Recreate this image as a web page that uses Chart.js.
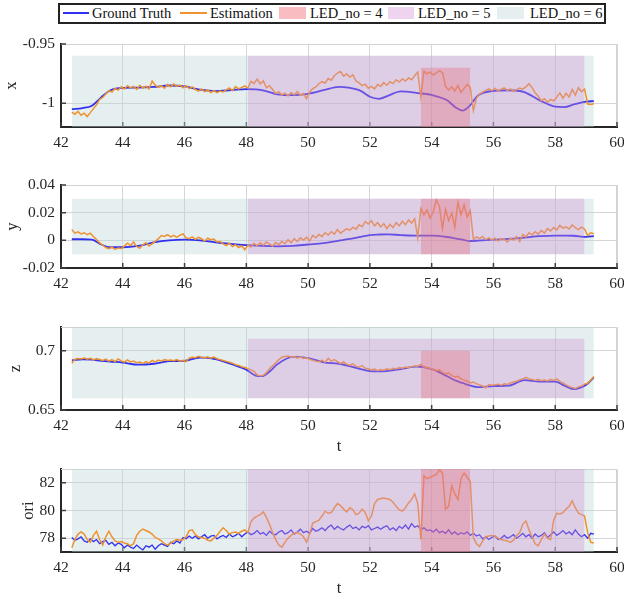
<!DOCTYPE html>
<html>
<head>
<meta charset="utf-8">
<script src="https://cdn.jsdelivr.net/npm/chart.js@4.4.1/dist/chart.umd.min.js"></script>
<style>
  body { margin: 0; width: 624px; height: 597px; overflow: hidden; position: relative; background: #fff;
         font-family: "Liberation Serif", "Times New Roman", serif; }
  canvas { position: absolute; left: 0; }
  #legend { position: absolute; left: 58px; top: 3px; width: 548px; height: 21px; box-sizing: border-box; border: 2px solid #222; background: #fff; }
  .lg { position: absolute; top: 4px; font-size: 14.5px; line-height: 18px; color: #111; white-space: nowrap; }
  .ln { position: absolute; top: 12px; height: 2px; }
  .sw { position: absolute; top: 7px; height: 12px; }
</style>
</head>
<body>
<div id="legend"></div>
<div class="ln" style="left:63px;width:26px;background:rgb(48,48,240)"></div>
<div class="lg" style="left:92px">Ground Truth</div>
<div class="ln" style="left:180px;width:27px;background:rgb(238,146,48)"></div>
<div class="lg" style="left:210px">Estimation</div>
<div class="sw" style="left:279px;width:27px;background:rgb(249,188,192)"></div>
<div class="lg" style="left:310px">LED_no = 4</div>
<div class="sw" style="left:388px;width:26px;background:rgb(238,212,238)"></div>
<div class="lg" style="left:418px">LED_no = 5</div>
<div class="sw" style="left:497px;width:27px;background:rgb(229,239,239)"></div>
<div class="lg" style="left:530px">LED_no = 6</div>

<canvas id="cx" width="624" height="151" style="top:28px"></canvas>
<canvas id="cy" width="624" height="151" style="top:169px"></canvas>
<canvas id="cz" width="624" height="151" style="top:311px"></canvas>
<canvas id="cori" width="624" height="151" style="top:453px"></canvas>

<script>
// estimation (and ori ground truth) sampled every 0.1 s from 42.35 s
const tStart = 42.35, tStep = 0.1;
const tTicks = [42, 44, 46, 48, 50, 52, 54, 56, 58, 60];

// smooth ground truth read at these times
const gtTimes = [42.35, 42.7, 43.0, 43.3, 43.6, 44.0, 44.5, 45.0, 45.5, 46.0,
  46.5, 47.0, 47.5, 48.0, 48.3, 48.5, 48.8, 49.0, 49.5, 50.0,
  50.5, 51.0, 51.3, 51.7, 52.0, 52.3, 52.6, 53.0, 53.5, 54.0,
  54.5, 54.8, 55.0, 55.2, 55.5, 56.0, 56.5, 57.0, 57.5, 58.0,
  58.3, 58.6, 59.0, 59.25];

const gtX = [-1.0049, -1.0040, -1.0020, -0.9950, -0.9890, -0.9870, -0.9868, -0.9862, -0.9850, -0.9858,
  -0.9885, -0.9897, -0.9889, -0.9880, -0.9882, -0.9890, -0.9910, -0.9925, -0.9932, -0.9920,
  -0.9890, -0.9862, -0.9868, -0.9895, -0.9945, -0.9962, -0.9935, -0.9900, -0.9912, -0.9930,
  -0.9975, -1.0040, -1.0062, -1.0030, -0.9935, -0.9895, -0.9890, -0.9905, -0.9975, -1.0028,
  -1.0032, -1.0010, -0.9986, -0.9982];

const gtY = [0.0008, 0.0008, 0.0005, -0.0030, -0.0050, -0.0050, -0.0040, -0.0015, 0.0000, 0.0005,
  0.0000, -0.0015, -0.0025, -0.0035, -0.0038, -0.0040, -0.0042, -0.0043, -0.0040, -0.0030,
  -0.0020, -0.0002, 0.0008, 0.0025, 0.0038, 0.0042, 0.0043, 0.0038, 0.0034, 0.0034,
  0.0024, 0.0012, 0.0005, -0.0005, -0.0002, 0.0005, 0.0010, 0.0020, 0.0030, 0.0034,
  0.0034, 0.0033, 0.0025, 0.0030];

const gtZ = [0.6918, 0.6928, 0.6924, 0.6915, 0.6908, 0.6900, 0.6882, 0.6890, 0.6912, 0.6915,
  0.6942, 0.6930, 0.6888, 0.6840, 0.6790, 0.6785, 0.6835, 0.6885, 0.6948, 0.6938,
  0.6902, 0.6890, 0.6872, 0.6845, 0.6828, 0.6825, 0.6830, 0.6845, 0.6865, 0.6845,
  0.6785, 0.6745, 0.6728, 0.6710, 0.6693, 0.6702, 0.6705, 0.6752, 0.6740, 0.6740,
  0.6705, 0.6676, 0.6712, 0.6775];

const estX = [-1.0075, -1.0092, -1.0068, -1.0101, -1.0083, -1.0112, -1.0079, -1.0045, -1.0012, -0.9968,
  -0.9951, -0.9922, -0.9893, -0.9905, -0.9874, -0.9889, -0.9861, -0.9880, -0.9852, -0.9871,
  -0.9858, -0.9883, -0.9849, -0.9872, -0.9856, -0.9879, -0.9812, -0.9848, -0.9866, -0.9851,
  -0.9873, -0.9842, -0.9861, -0.9838, -0.9857, -0.9846, -0.9869, -0.9852, -0.9876, -0.9861,
  -0.9884, -0.9897, -0.9879, -0.9902, -0.9888, -0.9909, -0.9893, -0.9911, -0.9896, -0.9904,
  -0.9887, -0.9871, -0.9893, -0.9858, -0.9879, -0.9866, -0.9853, -0.9872, -0.9815, -0.9832,
  -0.9795, -0.9836, -0.9811, -0.9869, -0.9852, -0.9884, -0.9918, -0.9902, -0.9931, -0.9915,
  -0.9938, -0.9911, -0.9929, -0.9902, -0.9934, -0.9918, -0.9961, -0.9905, -0.9877, -0.9862,
  -0.9835, -0.9818, -0.9829, -0.9791, -0.9805, -0.9768, -0.9745, -0.9732, -0.9771, -0.9752,
  -0.9779, -0.9761, -0.9812, -0.9828, -0.9851, -0.9839, -0.9873, -0.9858, -0.9879, -0.9842,
  -0.9857, -0.9826, -0.9848, -0.9819, -0.9834, -0.9802, -0.9821, -0.9795, -0.9812, -0.9786,
  -0.9801, -0.9768, -0.9737, -0.9948, -0.9729, -0.9752, -0.9738, -0.9761, -0.9744, -0.9725,
  -0.9742, -0.9857, -0.9889, -0.9862, -0.9896, -0.9851, -0.9908, -0.9874, -0.9841, -0.9866,
  -1.0063, -0.9958, -0.9923, -0.9906, -0.9891, -0.9879, -0.9894, -0.9873, -0.9896, -0.9882,
  -0.9871, -0.9893, -0.9878, -0.9899, -0.9885, -0.9872, -0.9881, -0.9862, -0.9835, -0.9868,
  -0.9912, -0.9941, -0.9978, -0.9962, -0.9991, -0.9968, -0.9979, -0.9948, -0.9912, -0.9957,
  -0.9916, -0.9948, -0.9884, -0.9931, -0.9869, -0.9902, -0.9881, -1.0006, -1.0011, -1.0004];

const estY = [0.0078, 0.0052, 0.0061, 0.0046, 0.0055, 0.0041, 0.0052, 0.0028, 0.0005, -0.0018,
  -0.0035, -0.0052, -0.0061, -0.0048, -0.0066, -0.0055, -0.0059, -0.0042, -0.0021, -0.0038,
  -0.0012, -0.0045, -0.0058, -0.0032, -0.0018, -0.0041, -0.0025, -0.0008, 0.0012, 0.0035,
  0.0028, 0.0041, 0.0025, 0.0036, 0.0022, 0.0038, 0.0046, 0.0018, 0.0012, 0.0025,
  0.0008, 0.0021, 0.0012, -0.0005, 0.0015, 0.0004, 0.0009, -0.0012, -0.0008, -0.0025,
  -0.0038, -0.0021, -0.0045, -0.0032, -0.0052, -0.0041, -0.0068, -0.0035, -0.0048, -0.0022,
  -0.0039, -0.0018, -0.0035, -0.0012, -0.0028, -0.0041, -0.0015, -0.0032, -0.0008, -0.0025,
  0.0005, -0.0018, 0.0012, -0.0008, 0.0018, 0.0002, 0.0021, -0.0005, 0.0035, 0.0018,
  0.0042, 0.0028, 0.0055, 0.0038, 0.0062, 0.0045, 0.0078, 0.0052, 0.0068, 0.0085,
  0.0072, 0.0095, 0.0081, 0.0112, 0.0098, 0.0135, 0.0118, 0.0142, 0.0105, 0.0128,
  0.0098, 0.0121, 0.0085, 0.0115, 0.0092, 0.0128, 0.0105, 0.0138, 0.0112, 0.0148,
  0.0125, 0.0155, 0.0018, 0.0232, 0.0185, 0.0218, 0.0162, 0.0205, 0.0292, 0.0245,
  0.0085, 0.0225, 0.0142, 0.0198, 0.0095, 0.0275, 0.0185, 0.0255, 0.0168, 0.0215,
  0.0008, 0.0025, 0.0012, 0.0028, 0.0005, 0.0018, 0.0002, 0.0015, -0.0005, 0.0012,
  0.0008, -0.0012, 0.0015, 0.0002, 0.0028, -0.0008, 0.0042, 0.0025, 0.0055, 0.0038,
  0.0062, 0.0045, 0.0071, 0.0052, 0.0085, 0.0068, 0.0092, 0.0075, 0.0108, 0.0088,
  0.0098, 0.0082, 0.0112, 0.0091, 0.0078, 0.0095, 0.0082, 0.0035, 0.0055, 0.0048];

const estZ = [0.6895, 0.6928, 0.6935, 0.6931, 0.6938, 0.6929, 0.6936, 0.6922, 0.6934, 0.6926,
  0.6918, 0.6929, 0.6912, 0.6925, 0.6908, 0.6931, 0.6914, 0.6903, 0.6922, 0.6905,
  0.6912, 0.6898, 0.6904, 0.6892, 0.6909, 0.6896, 0.6918, 0.6905, 0.6921, 0.6912,
  0.6925, 0.6918, 0.6922, 0.6915, 0.6926, 0.6912, 0.6920, 0.6908, 0.6938, 0.6945,
  0.6941, 0.6952, 0.6944, 0.6938, 0.6949, 0.6936, 0.6946, 0.6932, 0.6925, 0.6918,
  0.6910, 0.6902, 0.6895, 0.6882, 0.6876, 0.6865, 0.6858, 0.6849, 0.6838, 0.6826,
  0.6795, 0.6788, 0.6792, 0.6815, 0.6848, 0.6872, 0.6898, 0.6925, 0.6945, 0.6952,
  0.6955, 0.6946, 0.6951, 0.6938, 0.6948, 0.6935, 0.6941, 0.6928, 0.6919, 0.6912,
  0.6908, 0.6921, 0.6902, 0.6935, 0.6912, 0.6925, 0.6908, 0.6892, 0.6905, 0.6886,
  0.6878, 0.6889, 0.6868, 0.6862, 0.6875, 0.6852, 0.6848, 0.6838, 0.6845, 0.6832,
  0.6841, 0.6835, 0.6848, 0.6839, 0.6852, 0.6846, 0.6858, 0.6852, 0.6862, 0.6857,
  0.6866, 0.6872, 0.6869, 0.6885, 0.6862, 0.6858, 0.6851, 0.6842, 0.6832, 0.6838,
  0.6818, 0.6805, 0.6812, 0.6792, 0.6778, 0.6785, 0.6762, 0.6752, 0.6745, 0.6728,
  0.6735, 0.6721, 0.6712, 0.6702, 0.6688, 0.6715, 0.6708, 0.6712, 0.6718, 0.6710,
  0.6722, 0.6715, 0.6728, 0.6736, 0.6742, 0.6755, 0.6761, 0.6775, 0.6762, 0.6758,
  0.6749, 0.6758, 0.6746, 0.6752, 0.6745, 0.6758, 0.6749, 0.6762, 0.6741, 0.6728,
  0.6712, 0.6698, 0.6689, 0.6681, 0.6695, 0.6702, 0.6718, 0.6725, 0.6752, 0.6782];

const gtOri = [78.05, 77.85, 77.95, 78.1, 77.8, 77.7, 77.95, 77.75, 77.9, 77.6,
  77.75, 77.85, 77.55, 77.7, 77.45, 77.65, 77.55, 77.3, 77.5, 77.35,
  77.25, 77.5, 77.3, 77.15, 77.45, 77.35, 77.5, 77.2, 77.45, 77.6,
  77.5, 77.4, 77.7, 77.6, 77.8, 77.65, 78.05, 77.95, 78.15, 78.0,
  78.15, 77.95, 78.1, 78.25, 78.0, 78.15, 78.2, 77.95, 78.1, 78.2,
  78.05, 78.3, 78.1, 78.2, 78.35, 78.1, 78.3, 78.45, 78.25, 78.35,
  78.55, 78.3, 78.4, 78.2, 78.5, 78.3, 78.25, 78.45, 78.55, 78.3,
  78.4, 78.6, 78.3, 78.45, 78.65, 78.4, 78.5, 78.35, 78.7, 78.5,
  78.6, 78.75, 78.55, 78.8, 78.95, 78.65, 78.85, 78.7, 78.6, 78.8,
  78.95, 78.7, 78.8, 78.6, 78.85, 78.75, 78.9, 78.6, 78.7, 78.8,
  78.65, 78.8, 78.9, 78.6, 78.75, 78.55, 78.85, 78.7, 78.95, 78.65,
  79.05, 78.8, 78.9, 78.6, 78.75, 78.55, 78.6, 78.45, 78.65, 78.4,
  78.5, 78.35, 78.6, 78.3, 78.45, 78.25, 78.4, 78.3, 78.45, 78.2,
  78.35, 78.15, 78.25, 77.95, 78.1, 77.9, 78.05, 78.15, 77.9, 78.0,
  78.2, 78.0, 78.1, 78.25, 78.0, 78.15, 78.35, 78.1, 78.25, 78.0,
  78.3, 78.1, 78.2, 78.4, 78.05, 78.25, 78.45, 78.2, 78.35, 78.55,
  78.3, 78.45, 78.25, 78.6, 78.3, 78.1, 78.25, 78.0, 78.35, 78.3];

const estOri = [77.3, 77.9, 78.3, 78.45, 78.3, 77.9, 77.7, 78.2, 78.5, 77.9,
  77.5, 78.1, 78.5, 78.1, 77.8, 77.7, 77.75, 77.65, 77.6, 77.45,
  77.6, 78.2, 78.5, 78.65, 78.55, 78.45, 78.3, 78.05, 77.95, 77.8,
  77.6, 77.5, 77.65, 77.8, 77.9, 77.85, 77.9, 78.1, 78.55, 78.6,
  78.25, 78.1, 78.05, 78.0, 77.85, 77.8, 78.0, 78.2, 78.5, 78.75,
  78.55, 78.3, 78.4, 78.45, 78.35, 78.5, 78.6, 78.4, 79.2, 79.45,
  79.6, 79.7, 79.9, 79.5, 79.0, 78.4, 77.9, 77.5, 77.35, 77.7,
  78.0, 78.2, 78.35, 78.4, 78.3, 78.1, 77.7, 78.3, 79.1, 79.2,
  79.3, 79.6, 79.95, 79.8, 79.85, 80.2, 80.5, 80.35, 80.1, 79.9,
  80.2, 80.05, 79.7, 79.8, 80.1, 79.85, 79.25, 79.6, 80.5, 80.8,
  80.85, 80.9, 80.85, 80.8, 80.6, 80.3, 80.05, 79.95, 80.2, 80.55,
  80.8, 81.2, 80.5, 77.9, 82.5, 82.3, 82.4, 82.5, 82.6, 82.95,
  82.7, 80.1, 80.3, 81.8, 81.2, 80.8, 82.3, 82.7, 82.4, 82.1,
  78.05, 77.6, 77.4, 77.8, 78.1, 78.15, 78.2, 78.15, 78.0, 77.9,
  77.85, 77.8, 77.7, 77.85, 78.2, 78.4, 79.0, 79.25, 78.6, 78.1,
  77.6, 77.45, 77.9, 78.3, 78.0, 77.9, 79.3, 79.8, 79.75, 79.85,
  80.1, 80.3, 80.7, 80.2, 79.8, 79.7, 79.6, 78.4, 77.7, 77.65];

// LED segments (s), order: LED_no = 4, 5, 6
const ledNames = ['LED_no = 4', 'LED_no = 5', 'LED_no = 6'];
const ledStart = [53.65, 48.05, 42.35];
const ledEnd = [55.25, 58.95, 59.25];
// shaded band [bottom, top] in each panel, same LED order
const xBands = [[-1.02, -0.97], [-1.02, -0.96], [-1.02, -0.96]];
const yBands = [[-0.01, 0.03], [-0.01, 0.03], [-0.01, 0.03]];
const zBands = [[0.66, 0.70], [0.66, 0.71], [0.66, 0.72]];
const oriBands = [[77, 83], [77, 83], [77, 83]];

const xTicks = [-1, -0.95];
const yTicks = [-0.02, 0, 0.02, 0.04];
const zTicks = [0.65, 0.7];
const oriTicks = [78, 80, 82];

const gtColor = 'rgb(48,48,240)';
const estColor = 'rgb(238,146,48)';
const ledFill = ['rgba(232,105,119,0.35)', 'rgba(206,142,208,0.35)', 'rgba(190,215,215,0.4)'];
const ledOrder = [0, 1, 4];   // teal sits under the lines, the others over them
const textColor = '#262626';
const serif = "'Liberation Serif', 'Times New Roman', serif";

const atTimes = (times, vals) => vals.map((v, i) => ({ x: times[i], y: v }));
const onGrid = vals => vals.map((v, i) => ({ x: +(tStart + i * tStep).toFixed(2), y: v }));

// light box on top/right and inward tick marks like the original
const frame = {
    id: 'frame',
    beforeDatasetsDraw(chart) {
        const { ctx, chartArea: a, scales: { x, y } } = chart;
        ctx.save();
        ctx.strokeStyle = '#d2d2d2';
        ctx.lineWidth = 1;
        ctx.beginPath();
        ctx.moveTo(a.left, a.top + 0.5);
        ctx.lineTo(a.right - 0.5, a.top + 0.5);
        ctx.lineTo(a.right - 0.5, a.bottom);
        ctx.stroke();
        ctx.strokeStyle = '#404040';
        ctx.lineWidth = 1.5;
        ctx.beginPath();
        x.ticks.forEach(t => {
            const px = x.getPixelForValue(t.value);
            ctx.moveTo(px, a.bottom);
            ctx.lineTo(px, a.bottom - 5);
        });
        y.ticks.forEach(t => {
            const py = y.getPixelForValue(t.value);
            ctx.moveTo(a.left, py);
            ctx.lineTo(a.left + 5, py);
        });
        ctx.stroke();
        ctx.restore();
    }
};

function makePanel(id, p) {
    const datasets = [
        {
            label: 'Ground Truth', data: p.gt, borderColor: gtColor, borderWidth: p.smooth ? 1.8 : 1.3,
            pointRadius: 0, tension: p.smooth ? 0.4 : 0,
            cubicInterpolationMode: p.smooth ? 'monotone' : 'default', fill: false, order: 3
        },
        {
            label: 'Estimation', data: p.est, borderColor: estColor, borderWidth: 1.5,
            pointRadius: 0, tension: 0, fill: false, order: 2
        }
    ];
    ledNames.forEach((name, k) => {
        datasets.push({
            label: name,
            data: [{ x: ledStart[k], y: p.bands[k][1] }, { x: ledEnd[k], y: p.bands[k][1] }],
            borderColor: 'rgba(0,0,0,0)', borderWidth: 1, pointRadius: 0,
            backgroundColor: ledFill[k], fill: { value: p.bands[k][0] }, order: ledOrder[k]
        });
    });

    new Chart(document.getElementById(id), {
        type: 'line',
        data: { datasets },
        options: {
            responsive: false,
            animation: false,
            devicePixelRatio: 1,
            layout: { padding: { top: 16, right: 7, bottom: 2, left: 0 } },
            plugins: { legend: { display: false }, tooltip: { enabled: false } },
            scales: {
                x: {
                    type: 'linear', min: 42, max: 60,
                    afterBuildTicks: s => { s.ticks = tTicks.map(v => ({ value: v })); },
                    afterFit: s => { s.height = 50; s.paddingLeft = 0; s.paddingRight = 0; },
                    grid: { color: '#d6d6d6', drawTicks: false },
                    border: { color: '#262626', width: 2 },
                    ticks: { padding: 7, color: textColor, font: { family: serif, size: 15.5 }, callback: v => String(v) },
                    title: {
                        display: p.showT, text: 't', color: textColor,
                        font: { family: serif, size: 16.5 }, padding: { top: 0, bottom: 3 }
                    }
                },
                y: {
                    type: 'linear', min: p.min, max: p.max,
                    afterBuildTicks: s => { s.ticks = p.ticks.map(v => ({ value: v })); },
                    afterFit: s => { s.width = 61; s.paddingTop = 0; s.paddingBottom = 0; },
                    grid: { color: '#d6d6d6', drawTicks: false },
                    border: { color: '#262626', width: 2 },
                    ticks: { padding: 6, color: textColor, font: { family: serif, size: 15.5 }, callback: v => String(+v.toFixed(4)) },
                    title: {
                        display: true, text: p.label, color: textColor,
                        font: { family: serif, size: 16.5 }, padding: { top: p.titlePad, bottom: 0 }
                    }
                }
            }
        },
        plugins: [frame]
    });
}

makePanel('cx', { label: 'x', min: -1.02, max: -0.95, ticks: xTicks, bands: xBands, titlePad: 2, showT: false, smooth: true,
    gt: atTimes(gtTimes, gtX), est: onGrid(estX) });
makePanel('cy', { label: 'y', min: -0.02, max: 0.04, ticks: yTicks, bands: yBands, titlePad: 3, showT: false, smooth: true,
    gt: atTimes(gtTimes, gtY), est: onGrid(estY) });
makePanel('cz', { label: 'z', min: 0.65, max: 0.72, ticks: zTicks, bands: zBands, titlePad: 6, showT: true, smooth: true,
    gt: atTimes(gtTimes, gtZ), est: onGrid(estZ) });
makePanel('cori', { label: 'ori', min: 77, max: 83, ticks: oriTicks, bands: oriBands, titlePad: 19, showT: true, smooth: false,
    gt: onGrid(gtOri), est: onGrid(estOri) });
</script>
</body>
</html>
